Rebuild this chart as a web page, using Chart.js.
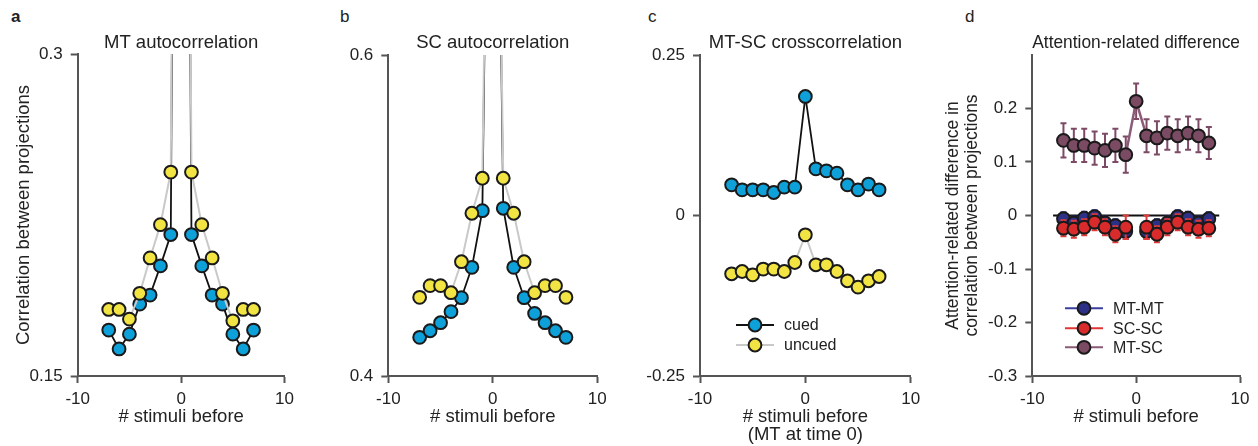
<!DOCTYPE html>
<html>
<head>
<meta charset="utf-8">
<script src="https://cdn.jsdelivr.net/npm/chart.js@4"></script>
<style>
  body { margin: 0; background: #fff; width: 1258px; height: 446px; position: relative; overflow: hidden;
         font-family: "Liberation Sans", Arial, sans-serif; color: #222; }
  .panel { position: absolute; top: 0; height: 446px; }
  .letter { position: absolute; top: 7px; font-size: 17px; line-height: 20px; color: #222; }
</style>
</head>
<body>
<div class="letter" style="left:11px;font-weight:bold">a</div>
<div class="letter" style="left:340px">b</div>
<div class="letter" style="left:648px">c</div>
<div class="letter" style="left:965px">d</div>

<div class="panel" style="left:0;width:300px"><canvas id="chartA"></canvas></div>
<div class="panel" style="left:300px;width:320px"><canvas id="chartB"></canvas></div>
<div class="panel" style="left:620px;width:320px"><canvas id="chartC"></canvas></div>
<div class="panel" style="left:940px;width:318px"><canvas id="chartD"></canvas></div>

<script>
// lag in number of stimuli (x axis)
const lags = [-7, -6, -5, -4, -3, -2, -1, 0, 1, 2, 3, 4, 5, 6, 7];
const xTicks = [-10, 0, 10];

// a: MT autocorrelation (lag 0 = 1, off the axis)
const aCued   = [0.1714, 0.1626, 0.1695, 0.1835, 0.1877, 0.2013, 0.2159, 1, 0.2159, 0.2013, 0.1877, 0.1835, 0.1695, 0.1626, 0.1714];
const aUncued = [0.181, 0.181, 0.1765, 0.1885, 0.205, 0.2205, 0.245, 1, 0.245, 0.2205, 0.205, 0.1885, 0.1757, 0.181, 0.181];
const aYTicks = [0.15, 0.3];

// b: SC autocorrelation
const bCued   = [0.4241, 0.4282, 0.4332, 0.4401, 0.4488, 0.4677, 0.5030, 1, 0.5045, 0.4677, 0.4488, 0.4390, 0.4332, 0.4282, 0.4241];
const bUncued = [0.449, 0.4563, 0.4563, 0.4519, 0.4712, 0.5014, 0.5232, 1, 0.5232, 0.5014, 0.4712, 0.4519, 0.4563, 0.4563, 0.449];
const bYTicks = [0.4, 0.6];

// c: MT-SC crosscorrelation
const cCued   = [0.0478, 0.040, 0.040, 0.040, 0.0358, 0.0442, 0.0442, 0.1854, 0.0727, 0.0696, 0.066, 0.0478, 0.040, 0.0489, 0.040];
const cUncued = [-0.0908, -0.0872, -0.0924, -0.0835, -0.0835, -0.0872, -0.0732, -0.0301, -0.0768, -0.0768, -0.0872, -0.1017, -0.1115, -0.1017, -0.095];
const cYTicks = [-0.25, 0, 0.25];

// d: attention-related difference (cued - uncued)
const dMtmt    = [-0.006, -0.014, -0.005, -0.002, -0.014, -0.019, -0.030, null, -0.030, -0.019, -0.014, -0.002, -0.005, -0.014, -0.006];
const dMtmtErr = [0.012, 0.012, 0.012, 0.012, 0.012, 0.012, 0.014, null, 0.014, 0.012, 0.012, 0.012, 0.012, 0.012, 0.012];
const dScsc    = [-0.0237, -0.0256, -0.0218, -0.0125, -0.0218, -0.035, -0.0218, null, -0.0218, -0.035, -0.0218, -0.0125, -0.0218, -0.0256, -0.0237];
const dScscErr = [0.015, 0.016, 0.015, 0.015, 0.015, 0.015, 0.022, null, 0.022, 0.015, 0.015, 0.015, 0.015, 0.016, 0.015];
const dMtsc    = [0.1404, 0.131, 0.131, 0.126, 0.1217, 0.131, 0.1137, 0.2135, 0.149, 0.145, 0.154, 0.149, 0.154, 0.149, 0.1355];
const dMtscErr = [0.032, 0.031, 0.031, 0.031, 0.031, 0.031, 0.034, 0.033, 0.031, 0.031, 0.031, 0.031, 0.031, 0.031, 0.030];
const dZeroX = [-8, 8];
const dZeroY = [0, 0];
const dYTicks = [-0.3, -0.2, -0.1, 0, 0.1, 0.2];

const BLUE = "#0ea0d8";
const YELLOW = "#f2e443";
const AXIS = "#555";

Chart.defaults.font.family = '"Liberation Sans", Arial, sans-serif';
Chart.defaults.color = "#222";

function pts(xs, ys) {
    return xs.map((x, i) => ({ x: x, y: ys[i] }));
}

// vertical error bars, drawn under each dataset's own line and markers
const errorBars = {
    id: "errorBars",
    beforeDatasetDraw(chart, args) {
        const ds = chart.data.datasets[args.index];
        if (!ds.errors) return;
        const ctx = chart.ctx;
        const yScale = chart.scales.y;
        ctx.save();
        ctx.strokeStyle = ds.errorColor;
        ctx.lineWidth = 2;
        args.meta.data.forEach((pt, i) => {
            const v = ds.data[i].y;
            const e = ds.errors[i];
            if (v === null || e === null) return;
            const top = yScale.getPixelForValue(v + e);
            const bot = yScale.getPixelForValue(v - e);
            ctx.beginPath();
            ctx.moveTo(pt.x, top); ctx.lineTo(pt.x, bot);
            ctx.moveTo(pt.x - 3, top); ctx.lineTo(pt.x + 3, top);
            ctx.moveTo(pt.x - 3, bot); ctx.lineTo(pt.x + 3, bot);
            ctx.stroke();
        });
        ctx.restore();
    }
};

// legend drawn as line + marker + label, like the figure
const lineLegend = {
    id: "lineLegend",
    afterDraw(chart, args, opts) {
        if (!opts.items) return;
        const ctx = chart.ctx;
        ctx.save();
        ctx.font = '16px "Liberation Sans", Arial, sans-serif';
        ctx.textBaseline = "middle";
        opts.items.forEach(it => {
            ctx.strokeStyle = it.line;
            ctx.lineWidth = 2;
            ctx.beginPath();
            ctx.moveTo(opts.x, it.y);
            ctx.lineTo(opts.x + 38, it.y);
            ctx.stroke();
            ctx.beginPath();
            ctx.arc(opts.x + 19, it.y, 6.4, 0, Math.PI * 2);
            ctx.fillStyle = it.fill;
            ctx.fill();
            ctx.lineWidth = 2;
            ctx.strokeStyle = "#1a1a1a";
            ctx.stroke();
            ctx.fillStyle = "#222";
            ctx.fillText(it.label, opts.x + 48, it.y + 1);
        });
        ctx.restore();
    }
};

function series(label, ys, line, fill, extra) {
    return Object.assign({
        label: label,
        data: pts(lags, ys),
        borderColor: line,
        borderWidth: 2,
        pointRadius: 6.4,
        pointBackgroundColor: fill,
        pointBorderColor: "#1a1a1a",
        pointBorderWidth: 2,
        spanGaps: false,
        tension: 0,
        clip: { left: 12, right: 12, top: 0, bottom: 12 }
    }, extra || {});
}

function makeChart(id, cfg) {
    return new Chart(document.getElementById(id), {
        type: "line",
        data: { datasets: cfg.datasets },
        plugins: [errorBars, lineLegend],
        options: {
            responsive: true,
            maintainAspectRatio: false,
            animation: false,
            layout: { padding: { left: 0, right: cfg.rightPad, top: 0, bottom: 0 } },
            plugins: {
                legend: { display: false },
                tooltip: { enabled: false },
                title: {
                    display: true,
                    text: cfg.title,
                    fullSize: false,
                    color: "#222",
                    font: { size: 18.5, weight: "normal", lineHeight: 1.2 },
                    padding: { top: 31.4, bottom: cfg.top - 31.4 - 22.2 }
                },
                lineLegend: cfg.legend || {}
            },
            scales: {
                x: {
                    type: "linear",
                    min: -10,
                    max: 10,
                    afterBuildTicks: s => { s.ticks = xTicks.map(v => ({ value: v })); },
                    afterFit: s => { s.height = 70; },
                    ticks: { callback: v => String(v), font: { size: 17 }, color: "#222", padding: 6, maxRotation: 0 },
                    grid: { drawOnChartArea: false, tickLength: 7, tickColor: AXIS, tickWidth: 2 },
                    border: { color: AXIS, width: 2 },
                    title: {
                        display: true,
                        text: cfg.xTitle,
                        color: "#222",
                        font: { size: 18.5, lineHeight: cfg.xTitleLH },
                        padding: { top: 0, bottom: cfg.xTitlePad }
                    }
                },
                y: {
                    min: cfg.yMin,
                    max: cfg.yMax,
                    afterBuildTicks: s => { s.ticks = cfg.yTicks.map(v => ({ value: v })); },
                    afterFit: s => { s.width = cfg.yWidth; },
                    ticks: { callback: v => String(v), font: { size: 17 }, color: "#222", padding: 8 },
                    grid: { drawOnChartArea: false, tickLength: 7, tickColor: AXIS, tickWidth: 2 },
                    border: { color: AXIS, width: 2 },
                    title: {
                        display: !!cfg.yTitle,
                        text: cfg.yTitle || "",
                        color: "#222",
                        font: { size: cfg.yTitleSize || 18.5, lineHeight: cfg.yTitleLH || 1.15 },
                        padding: { top: cfg.yTitlePad || 0, bottom: 0 }
                    }
                }
            }
        }
    });
}

const xLabel = "# stimuli before";

makeChart("chartA", {
    title: "MT autocorrelation",
    top: 54, rightPad: 12.7, yWidth: 77.7,
    yMin: 0.15, yMax: 0.3, yTicks: aYTicks,
    yTitle: "Correlation between projections", yTitlePad: 13.4,
    xTitle: xLabel, xTitleLH: 1.15, xTitlePad: 18.7,
    datasets: [
        series("uncued", aUncued, "#c9c9c9", YELLOW),
        series("cued", aCued, "#111", BLUE, { borderWidth: 1.8 })
    ]
});

makeChart("chartB", {
    title: "SC autocorrelation",
    top: 55, rightPad: 22.7, yWidth: 88.3,
    yMin: 0.4, yMax: 0.6, yTicks: bYTicks,
    xTitle: xLabel, xTitleLH: 1.15, xTitlePad: 18.7,
    datasets: [
        series("uncued", bUncued, "#c9c9c9", YELLOW),
        series("cued", bCued, "#111", BLUE, { borderWidth: 1.8 })
    ]
});

makeChart("chartC", {
    title: "MT-SC crosscorrelation",
    top: 55, rightPad: 29.3, yWidth: 80,
    yMin: -0.25, yMax: 0.25, yTicks: cYTicks,
    xTitle: [xLabel, "(MT at time 0)"], xTitleLH: 0.99, xTitlePad: 1.8,
    datasets: [
        series("uncued", cUncued, "#c9c9c9", YELLOW),
        series("cued", cCued, "#111", BLUE, { borderWidth: 1.8 })
    ],
    legend: {
        x: 116,
        items: [
            { label: "cued", y: 325, line: "#111", fill: BLUE },
            { label: "uncued", y: 345, line: "#c9c9c9", fill: YELLOW }
        ]
    }
});

makeChart("chartD", {
    title: "Attention-related difference",
    top: 55, rightPad: 18, yWidth: 92.3,
    yMin: -0.3, yMax: 0.3, yTicks: dYTicks,
    yTitle: ["Attention-related difference in", "correlation between projections"],
    yTitleSize: 17.5, yTitleLH: 1.07, yTitlePad: 3.6,
    xTitle: xLabel, xTitleLH: 1.15, xTitlePad: 18.7,
    datasets: [
        series("MT-SC", dMtsc, "#8b5a76", "#7b4a63", { borderWidth: 2.5, errors: dMtscErr, errorColor: "#7d4a66" }),
        series("SC-SC", dScsc, "#e03535", "#d92b2b", { errors: dScscErr, errorColor: "#e0393a" }),
        series("MT-MT", dMtmt, "#3a3f9e", "#2c3187", { errors: dMtmtErr, errorColor: "#2d3290" }),
        {
            label: "zero",
            data: pts(dZeroX, dZeroY),
            borderColor: "#111",
            borderWidth: 2,
            pointRadius: 0
        }
    ],
    legend: {
        x: 125,
        items: [
            { label: "MT-MT", y: 308.3, line: "#3a3f9e", fill: "#2c3187" },
            { label: "SC-SC", y: 328.3, line: "#e03535", fill: "#d92b2b" },
            { label: "MT-SC", y: 347.3, line: "#8b5a76", fill: "#7b4a63" }
        ]
    }
});
</script>
</body>
</html>
